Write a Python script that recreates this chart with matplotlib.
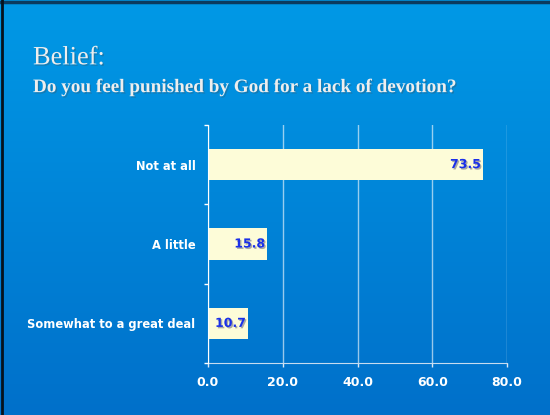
import numpy as np
import matplotlib
matplotlib.use("Agg")
import matplotlib.pyplot as plt
import matplotlib.patheffects as pe

# data
categories = ["Not at all", "A little", "Somewhat to a great deal"]
values = [73.5, 15.8, 10.7]
xticks = [0, 20, 40, 60, 80]
title = "Belief:"
subtitle = "Do you feel punished by God for a lack of devotion?"

fig = plt.figure(figsize=(5.5, 4.15), dpi=100)

# gradient background
bg = fig.add_axes([0, 0, 1, 1], zorder=-10)
top = np.array([0, 153, 230]) / 255.0
bot = np.array([0, 112, 202]) / 255.0
t = np.linspace(0, 1, 256)[:, None]
grad = top[None, :] * (1 - t) + bot[None, :] * t
bg.imshow(grad[:, None, :], aspect="auto", extent=[0, 1, 0, 1])
bg.set_xlim(0, 1)
bg.set_ylim(0, 1)
bg.axis("off")
# dark frame on top and left
bg.plot([0, 1], [0.996, 0.996], color="#0b3b5e", lw=2.5)
bg.plot([0.004, 0.004], [0, 1], color="#06121d", lw=2)

shadow = [pe.withSimplePatchShadow(offset=(1, -1), alpha=0.3)]
fig.text(0.06, 0.845, title, family="Liberation Serif", fontsize=19,
         color="#eeeeee", ha="left", va="baseline", path_effects=shadow)
fig.text(0.06, 0.778, subtitle, family="Liberation Serif", fontsize=13.8,
         color="#eeeeee", ha="left", va="baseline", fontweight="bold",
         path_effects=shadow)

ax = fig.add_axes([0.378, 0.125, 0.544, 0.574])
ax.set_facecolor("none")
y = np.arange(len(categories))
ax.barh(y, values, height=0.4, color="#fdfcd8", zorder=3)
ax.set_ylim(2.5, -0.5)
ax.set_xlim(0, 80)

for yi, v in zip(y, values):
    ax.text(v - 0.5, yi, f"{v:.1f}", ha="right", va="center", fontsize=9,
            fontweight="bold", color="#1a30e8", zorder=4,
            path_effects=[pe.withSimplePatchShadow(offset=(1, -1), alpha=0.35)])

ax.set_xticks(xticks)
ax.set_xticklabels([f"{x:.1f}" for x in xticks])
ax.set_yticks(y)
ax.set_yticklabels(categories)
ax.set_yticks([-0.5, 0.5, 1.5, 2.5], minor=True)
ax.tick_params(axis="y", which="major", length=0, pad=9)
ax.tick_params(axis="y", which="minor", length=3, color="white", width=1)
ax.tick_params(axis="x", length=3, color="#dde8f5", width=1, pad=6)
for lab in ax.get_xticklabels():
    lab.set_color("white")
    lab.set_fontweight("bold")
    lab.set_fontsize(9)
for lab in ax.get_yticklabels():
    lab.set_color("white")
    lab.set_fontweight("bold")
    lab.set_fontsize(8.3)

ax.grid(axis="x", color="white", alpha=0.6, lw=1, zorder=1)
ax.spines["top"].set_visible(False)
ax.spines["right"].set_visible(False)
ax.spines["left"].set_color("white")
ax.spines["bottom"].set_color("#c8dcf0")
ax.spines["left"].set_zorder(5)

fig.savefig("out.png", dpi=100)
